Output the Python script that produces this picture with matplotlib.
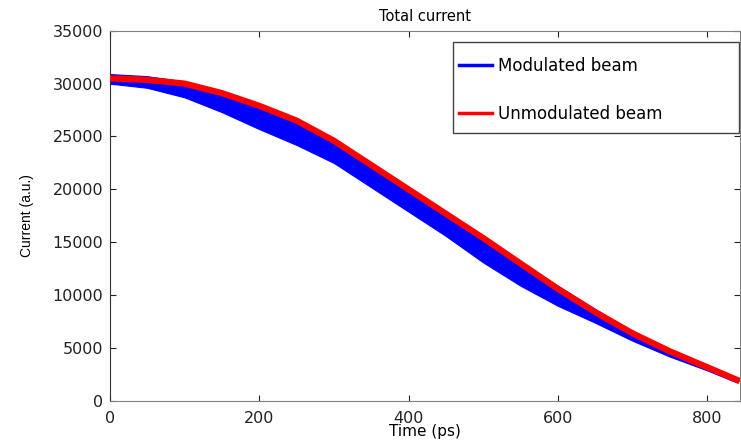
import matplotlib
matplotlib.use("Agg")
import matplotlib.pyplot as plt
from matplotlib.lines import Line2D
from matplotlib.patches import Rectangle

# values
time_ps = [0, 50, 100, 150, 200, 250, 300, 350, 400, 450, 500, 550, 600, 650, 700, 750, 800, 840]

mod_upper = [30900, 30700, 30200, 29300, 28000, 26500, 24700, 22500, 20100, 17800,
             15400, 13200, 10900, 8700, 6600, 4800, 3300, 2050]
mod_lower = [30000, 29600, 28700, 27300, 25700, 24200, 22500, 20200, 17900, 15600,
             13100, 10900, 9000, 7400, 5700, 4200, 2900, 1750]
unmod = [30500, 30350, 30000, 29100, 27900, 26500, 24600, 22300, 20000, 17700,
         15400, 13000, 10600, 8400, 6400, 4700, 3200, 2000]

x_ticks = [0, 200, 400, 600, 800]
y_ticks = [0, 5000, 10000, 15000, 20000, 25000, 30000, 35000]

fig = plt.figure(figsize=(7.41, 4.44), dpi=100)
ax = fig.add_axes([0.1484, 0.0968, 0.8502, 0.8341])

ax.fill_between(time_ps, mod_lower, mod_upper, color="#0000ff", lw=0.8, zorder=2)
ax.plot(time_ps, unmod, color="#ff0000", lw=4.5, zorder=3)

ax.set_xlim(0, 844)
ax.set_ylim(0, 35000)
ax.set_xticks(x_ticks)
ax.set_yticks(y_ticks)
ax.tick_params(direction="in", length=4, width=0.8, top=True, right=True,
               labelsize=11.5, colors="#222222")
ax.tick_params(axis="x", pad=7)
ax.tick_params(axis="y", pad=5)
for side in ["top", "bottom", "right"]:
    ax.spines[side].set_color("#808080")
ax.spines["left"].set_color("#333333")

ax.set_title("Total current", fontsize=10.5, pad=7)
ax.set_xlabel("Time (ps)", fontsize=11, labelpad=-1)
ax.set_ylabel("Current (a.u.)", fontsize=10, family="Liberation Sans", labelpad=13)

# legend box
box = Rectangle((0.544, 0.7237), 0.454, 0.2458, transform=ax.transAxes,
                facecolor="white", edgecolor="#444444", lw=1, zorder=5)
ax.add_patch(box)
handles = [Line2D([0], [0], color="#0000ff", lw=2.5),
           Line2D([0], [0], color="#ff0000", lw=2.5)]
leg = ax.legend(handles, ["Modulated beam", "Unmodulated beam"], loc="upper left",
                bbox_to_anchor=(0.554, 0.930), frameon=False, fontsize=12,
                borderpad=0, borderaxespad=0, labelspacing=1.8,
                handlelength=2.0, handletextpad=0.36)
leg.set_zorder(6)

fig.savefig("out.png", dpi=100)
